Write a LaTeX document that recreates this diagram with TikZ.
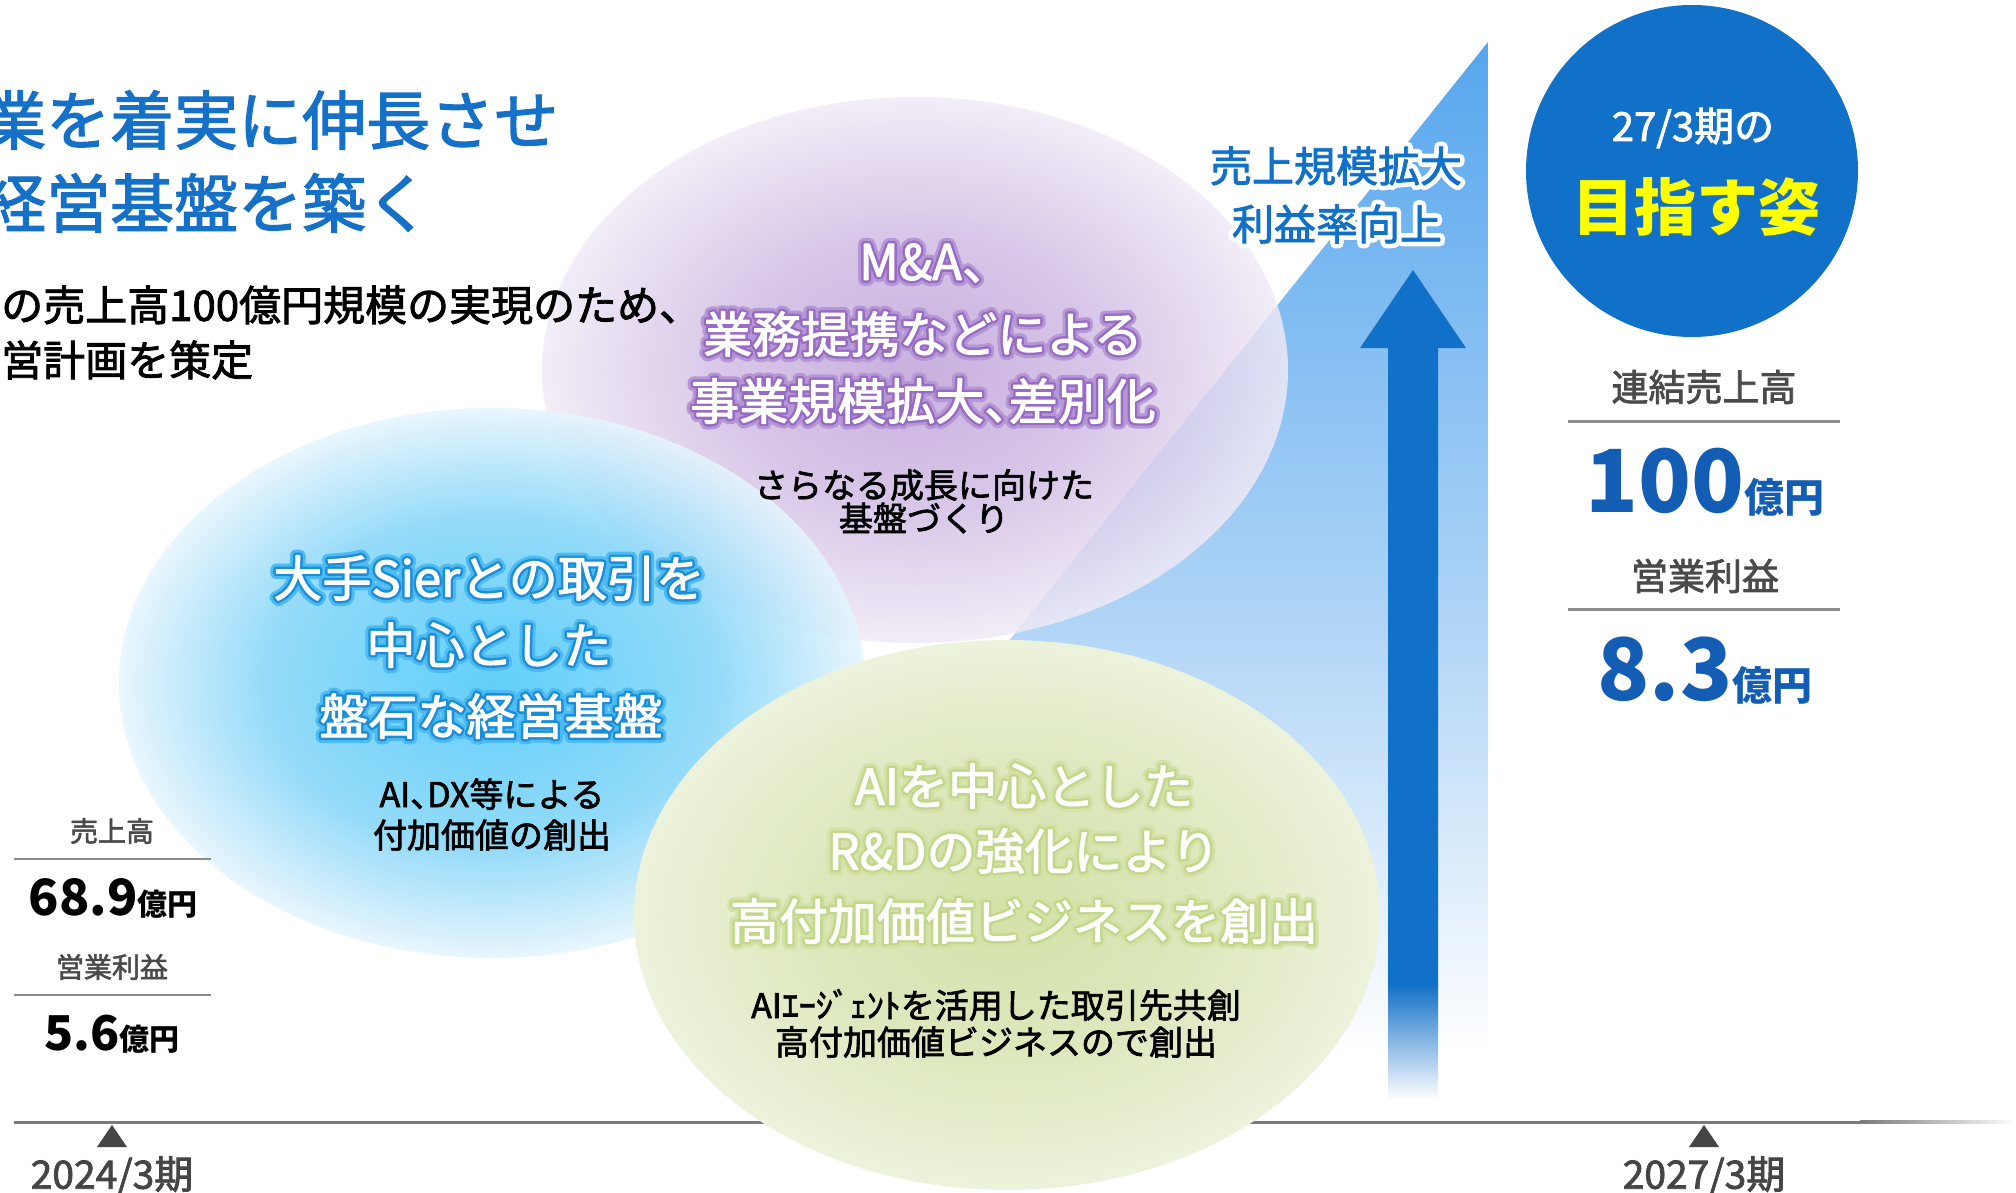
\documentclass[tikz,border=0pt]{standalone}
\usepackage{fontspec}
\setmainfont{Noto Sans CJK JP}
\newfontfamily\jpmed{Noto Sans CJK JP}[FakeBold=2]
\newfontfamily\halowide{Noto Sans CJK JP}[FakeBold=24]
\newfontfamily\halonarrow{Noto Sans CJK JP}[FakeBold=12]
\usetikzlibrary{positioning,calc}

\definecolor{titleblue}{HTML}{1570C8}
\definecolor{arrowblue}{HTML}{1170C8}
\definecolor{numblue}{HTML}{135EB4}
\definecolor{labelgray}{HTML}{4A4A4A}
\definecolor{rulegray}{HTML}{8C8C8C}
\definecolor{axisgray}{HTML}{7A7A7A}
\definecolor{markgray}{HTML}{454545}
\definecolor{triblue}{HTML}{56A6EE}
\definecolor{triM}{HTML}{ADD3F6}
\definecolor{goalyellow}{HTML}{FFFF00}
\definecolor{purpC}{HTML}{BFA0D9}
\definecolor{purpM}{HTML}{D2BEE5}
\definecolor{purpE}{HTML}{F0EAF6}
\definecolor{purpHalo}{HTML}{B597D6}
\definecolor{purpGlow}{HTML}{986CC4}
\definecolor{cyanC}{HTML}{4CCAFA}
\definecolor{cyanM}{HTML}{86D6F9}
\definecolor{cyanE}{HTML}{E6F5FD}
\definecolor{cyanHalo}{HTML}{4DBBF2}
\definecolor{cyanGlow}{HTML}{1A8ED8}
\definecolor{greenC}{HTML}{D3E2AA}
\definecolor{greenM}{HTML}{DDE8BD}
\definecolor{greenE}{HTML}{EDF2DC}
\definecolor{greenHalo}{HTML}{D3E2A6}
\definecolor{greenGlow}{HTML}{C2D78A}

% wide halo, narrow halo, then the text itself on top
\newcommand{\haloed}[3]{\makebox[0pt][l]{\halowide\color{#1}#3}\makebox[0pt][l]{\halonarrow\color{#2}#3}#3}
% tight comma inside a line
\newcommand{\tcomma}{\makebox[.5em][l]{、}}

\pgfdeclareradialshading{purpleball}{\pgfpoint{0bp}{0bp}}{color(0bp)=(purpC); color(13bp)=(purpM); color(25bp)=(purpE); color(50bp)=(purpE)}
\pgfdeclareradialshading{cyanball}{\pgfpoint{0bp}{0bp}}{color(0bp)=(cyanC); color(15bp)=(cyanM); color(25bp)=(cyanE); color(50bp)=(cyanE)}
\pgfdeclareradialshading{greenball}{\pgfpoint{0bp}{0bp}}{color(0bp)=(greenC); color(13bp)=(greenM); color(25bp)=(greenE); color(50bp)=(greenE)}
\pgfdeclareverticalshading{trifade}{100bp}{color(0bp)=(white); color(28bp)=(white); color(49bp)=(triM); color(75bp)=(triblue); color(100bp)=(triblue)}

\tikzstyle{headline} = [anchor=west, inner sep=0pt, text=titleblue, font=\jpmed\fontsize{64}{64}\selectfont]
\tikzstyle{intro} = [anchor=west, inner sep=0pt, text=black, font=\jpmed\fontsize{42}{42}\selectfont]
\tikzstyle{glowline} = [inner sep=0pt, text=white, line join=round, font=\jpmed\fontsize{49}{49}\selectfont]
\tikzstyle{note} = [inner sep=0pt, text=black, font=\jpmed\fontsize{34}{34}\selectfont]
\tikzstyle{caption} = [inner sep=0pt, text=labelgray, font=\jpmed\fontsize{37}{37}\selectfont]
\tikzstyle{smallcaption} = [inner sep=0pt, text=labelgray, font=\jpmed\fontsize{28}{28}\selectfont]
\tikzstyle{bignum} = [anchor=base, inner sep=0pt, text=numblue, font=\bfseries]
\tikzstyle{yearlabel} = [inner sep=0pt, text=markgray, font=\jpmed\fontsize{39}{39}\selectfont]
\tikzstyle{gridrule} = [draw=rulegray, line width=3]

\begin{document}
\begin{tikzpicture}[x=1pt,y=-1pt]
      \useasboundingbox (0,0) rectangle (2016,1193);
      \fill[white] (0,0) rectangle (2016,1193);
      %%%%%%%%%%%%%%%%%%%%%%%%%%%%%%%%%%%%%%%
      % rising wedge and time axis
      \shade[shading=trifade] (1488,42) -- (1488,1122) -- (624,1122) -- cycle;
      \coordinate (axisL) at (14,1122);
      \coordinate (axisM) at (1860,1122);
      \coordinate (axisR) at (2016,1122);
      \draw[axisgray, line width=3] (axisL) -- (axisM);
      \shade[left color=axisgray, right color=white] (1860,1120.5) rectangle (2016,1123.5);
      % the three fields
      \shade[shading=purpleball, fill opacity=.84] (915,370) ellipse [x radius=373, y radius=273];
      \shade[shading=cyanball, fill opacity=.88] (492,683) ellipse [x radius=373, y radius=275];
      \shade[shading=greenball] (1007,915) ellipse [x radius=373, y radius=275];
      % big arrow
      \fill[arrowblue] (1413,270) -- (1466,348) -- (1438,348) -- (1438,986) -- (1388,986) -- (1388,348) -- (1360,348) -- cycle;
      \shade[top color=arrowblue, bottom color=white] (1388,984) rectangle (1438,1100);
      %%%%%%%%%%%%%%%%%%%%%%%%%%%%%%%%%%%%%%%
      \node[headline] (headA) at (-18,120) {業を着実に伸長させ};
      \node[headline] (headB) at (-18,203) {経営基盤を築く};
      \node[intro] (introA) at (1,305) {の売上高100億円規模の実現のため、};
      \node[intro] (introB) at (1,360) {営計画を策定};
      % purple field
      \node[glowline] (maA) at (935,263) {\haloed{purpHalo}{purpGlow}{M\&A、}};
      \node[glowline] (maB) at (923,334) {\haloed{purpHalo}{purpGlow}{業務提携などによる}};
      \node[glowline] (maC) at (923,401) {\haloed{purpHalo}{purpGlow}{事業規模拡大\tcomma 差別化}};
      \node[note] (maD) at (924,485) {さらなる成長に向けた};
      \node[note] (maE) at (924,518) {基盤づくり};
      % cyan field
      \node[glowline] (siA) at (489,578) {\haloed{cyanHalo}{cyanGlow}{大手Sierとの取引を}};
      \node[glowline] (siB) at (489,645) {\haloed{cyanHalo}{cyanGlow}{中心とした}};
      \node[glowline] (siC) at (491,716) {\haloed{cyanHalo}{cyanGlow}{盤石な経営基盤}};
      \node[note] (siD) at (492,794) {AI\tcomma DX等による};
      \node[note] (siE) at (492,835) {付加価値の創出};
      % green field
      \node[glowline] (rdA) at (1024,786) {\haloed{greenHalo}{greenGlow}{AIを中心とした}};
      \node[glowline] (rdB) at (1024,851) {\haloed{greenHalo}{greenGlow}{R\&Dの強化により}};
      \node[glowline] (rdC) at (1024,921) {\haloed{greenHalo}{greenGlow}{高付加価値ビジネスを創出}};
      \node[note] (rdD) at (996,1005) {AIｴｰｼﾞｪﾝﾄを活用した取引先共創};
      \node[note] (rdE) at (996,1042) {高付加価値ビジネスので創出};
      % growth labels
      \node[glowline, text=arrowblue, font=\jpmed\fontsize{42}{42}\selectfont] (upA) at (1336,166) {\haloed{white}{white}{売上規模拡大}};
      \node[glowline, text=arrowblue, font=\jpmed\fontsize{42}{42}\selectfont] (upB) at (1337,224) {\haloed{white}{white}{利益率向上}};
      % goal circle
      \node[circle, fill=arrowblue, minimum size=332, inner sep=0pt] (goal) at (1692,171) {};
      \node[inner sep=0pt, text=white, font=\jpmed\fontsize{40}{40}\selectfont] (goalA) at (1693,128) {27/3期の};
      \node[inner sep=0pt, text=goalyellow, font=\bfseries\fontsize{62}{62}\selectfont] (goalB) at (1696,207) {目指す姿};
      % target figures
      \node[caption] (tgtA) at (1704,387) {連結売上高};
      \draw[gridrule] (1568,421) -- (1840,421);
      \node[bignum] (tgtB) at (1705,512) {{\fontsize{87}{87}\selectfont 100}{\fontsize{40}{40}\selectfont 億円}};
      \node[caption] (tgtC) at (1705,576) {営業利益};
      \draw[gridrule] (1568,609) -- (1840,609);
      \node[bignum] (tgtD) at (1705,700) {{\fontsize{86}{86}\selectfont 8.3}{\fontsize{40}{40}\selectfont 億円}};
      % current figures
      \node[smallcaption] (nowA) at (112,831) {売上高};
      \draw[gridrule, line width=2.5] (14,859) -- (211,859);
      \node[bignum, text=black] (nowB) at (113,915) {{\fontsize{50}{50}\selectfont 68.9}{\fontsize{30}{30}\selectfont 億円}};
      \node[smallcaption] (nowC) at (112,967) {営業利益};
      \draw[gridrule, line width=2.5] (14,995) -- (211,995);
      \node[bignum, text=black] (nowD) at (112,1050) {{\fontsize{48}{48}\selectfont 5.6}{\fontsize{30}{30}\selectfont 億円}};
      % axis marks
      \foreach \x/\yr in {112/2024, 1704/2027}{
        \fill[markgray] (\x,1125) -- (\x+15,1147) -- (\x-15,1147) -- cycle;
        \node[yearlabel] (year\yr) at (\x,1176) {\yr/3期};
      }
\end{tikzpicture}
\end{document}
